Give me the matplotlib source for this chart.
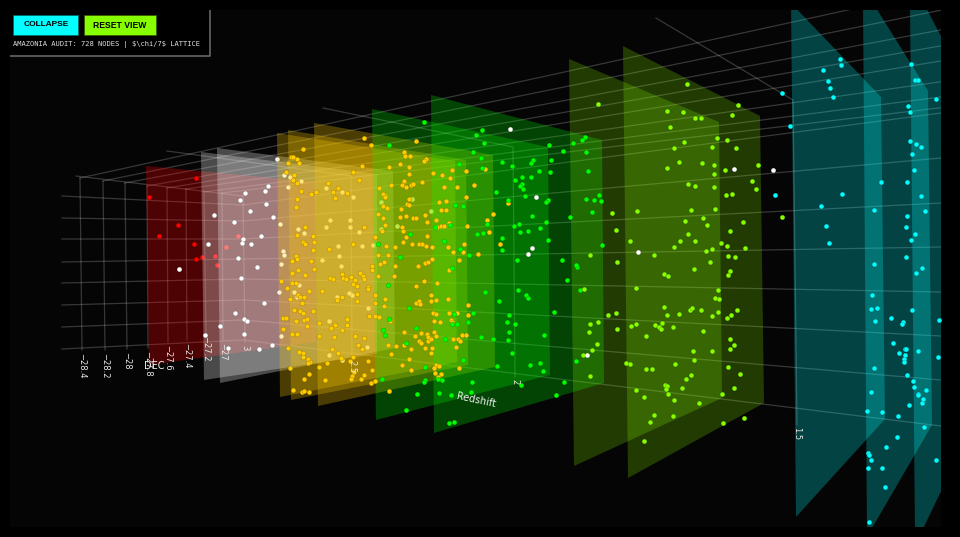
import matplotlib
matplotlib.use("Agg")
import matplotlib.pyplot as plt
from matplotlib.patches import Rectangle

red_x = [196, 149, 178, 159, 194, 196, 202, 215, 217, 226, 238]
red_y = [178, 197, 225, 236, 244, 259, 257, 256, 265, 247, 236]

white_x = [277, 268, 265, 245, 240, 266, 250, 273, 214, 234, 280, 261, 243, 242, 251, 208, 238, 257, 241, 179,
           279, 264, 235, 244, 247, 220, 205, 244, 281, 272, 259, 228, 284, 290, 301, 288, 326, 342, 353, 330,
           350, 326, 350, 359, 298, 304, 338, 362, 283, 284, 281, 339, 322, 341, 299, 294, 297, 337, 352, 349,
           368, 329, 329, 342, 385, 381, 412, 397, 381, 431, 367, 373,
           510, 536, 532, 528, 587, 638, 734, 773]
white_y = [159, 186, 191, 193, 200, 204, 211, 217, 215, 222, 224, 236, 239, 243, 244, 244, 258, 267, 278, 269,
           292, 303, 313, 319, 321, 326, 335, 334, 336, 345, 349, 348, 175, 177, 181, 187, 188, 192, 197, 220,
           220, 227, 227, 232, 229, 233, 246, 246, 251, 255, 264, 256, 260, 266, 285, 292, 297, 297, 295, 293,
           308, 321, 355, 360, 196, 202, 199, 226, 229, 211, 347, 245,
           129, 197, 248, 254, 355, 252, 169, 170]

yellow_x = [303, 364, 371, 416, 291, 293, 297, 288, 299, 362, 389, 404, 405, 410, 426, 424, 400, 409, 353, 286,
            294, 293, 359, 328, 333, 338, 347, 335, 301, 297, 316, 311, 297, 296, 379, 391, 404, 402, 406, 411,
            413, 422, 409, 433, 442, 452, 450, 444, 457, 466, 485, 474, 466, 383, 385, 383, 387, 409, 407, 409,
            401, 439, 446, 441, 446, 378, 383, 400, 406, 413, 416, 425, 436, 427, 385, 402, 403, 364, 382, 441,
            444, 437, 449, 467, 493, 487, 489, 406, 403, 427, 375, 412, 419, 422, 426, 432, 386, 395, 353, 329,
            378, 388, 448, 453, 464, 463, 459, 478, 500, 508, 384, 380, 395, 418, 425, 428, 432, 449, 372, 372,
            378, 394, 360, 363, 364, 330, 333, 342, 343, 346, 351, 355, 353, 357, 368, 368, 416, 424, 437, 322,
            357, 342, 337, 357, 375, 385, 375, 384, 431, 431, 436, 448, 416, 419, 420, 468, 369, 375, 379, 433,
            436, 449, 457, 468, 434, 440, 451, 452, 347, 347, 319, 335, 331, 342, 390, 404, 421, 427, 434, 319,
            334, 355, 364, 415, 428, 436, 462, 466, 419, 421, 428, 431, 453, 458, 460, 358, 362, 388, 396, 404,
            411, 425, 432, 456, 332, 338, 353, 391, 431, 341, 350, 409, 368, 402, 436, 434, 439, 459, 411, 372,
            435, 441, 353, 354, 352, 364, 361, 351, 438, 325, 371, 375, 389, 288, 299, 303, 303, 308, 310, 308,
            290, 319, 327, 309, 304, 293, 302, 304, 309, 297, 305, 313, 303, 305, 314, 313, 296, 292, 297, 311,
            298, 314, 292, 305, 281, 292, 296, 309, 287, 298, 300, 304, 290, 302, 294, 300, 303, 313, 283, 286,
            296, 304, 307, 307, 283, 292, 297]
yellow_y = [149, 138, 145, 141, 157, 157, 159, 163, 163, 166, 167, 152, 156, 156, 159, 161, 164, 167, 172, 172,
            175, 180, 180, 183, 192, 188, 193, 198, 191, 183, 192, 194, 199, 207, 188, 185, 181, 185, 187, 185,
            184, 182, 174, 173, 175, 170, 178, 187, 187, 171, 169, 185, 197, 194, 197, 206, 208, 199, 204, 205,
            209, 202, 201, 210, 210, 214, 218, 217, 216, 218, 218, 215, 220, 222, 225, 227, 231, 227, 231, 226,
            226, 227, 223, 226, 214, 220, 232, 237, 242, 236, 237, 244, 244, 244, 246, 247, 246, 247, 244, 249,
            255, 255, 247, 252, 244, 252, 260, 254, 244, 203, 262, 264, 266, 266, 263, 262, 259, 270, 266, 270,
            276, 276, 273, 276, 279, 278, 279, 274, 278, 279, 277, 280, 284, 286, 287, 289, 286, 281, 283, 291,
            294, 297, 300, 301, 295, 299, 303, 306, 295, 301, 300, 299, 303, 301, 304, 305, 316, 316, 317, 313,
            314, 313, 313, 315, 321, 322, 320, 322, 319, 325, 323, 325, 328, 330, 321, 332, 333, 334, 332, 336,
            337, 336, 338, 336, 337, 336, 335, 335, 341, 343, 341, 339, 339, 339, 341, 345, 349, 345, 346, 345,
            349, 348, 348, 347, 349, 353, 357, 354, 353, 358, 361, 359, 361, 365, 365, 368, 366, 368, 370, 370,
            373, 374, 371, 372, 376, 375, 379, 379, 377, 380, 383, 381, 391, 348, 352, 353, 357, 359, 362, 363,
            368, 367, 363, 374, 379, 390, 392, 391, 392, 235, 227, 236, 242, 244, 242, 250, 256, 261, 259, 261,
            270, 269, 273, 275, 281, 283, 283, 291, 288, 295, 297, 297, 299, 303, 310, 311, 313, 311, 318, 318,
            321, 320, 319, 326, 329, 334, 334]

green_x = [424, 389, 482, 476, 484, 473, 481, 502, 512, 533, 531, 549, 563, 551, 573, 582, 585, 586, 459, 482,
           539, 550, 588, 522, 531, 515, 522, 520, 523, 496, 525, 508, 548, 546, 586, 594, 601, 599, 592, 455,
           463, 532, 570, 546, 487, 514, 519, 540, 528, 520, 477, 483, 450, 435, 410, 502, 548, 602, 460, 378,
           444, 502, 469, 517, 400, 562, 452, 567, 388, 518, 526, 528, 485, 499, 580, 409, 473, 509, 554, 454,
           389, 507, 515, 468, 457, 452, 383, 416, 509, 385, 481, 493, 508, 544, 406, 445, 512, 463, 425, 497,
           530, 540, 543, 382, 425, 424, 438, 442, 472, 564, 521, 417, 439, 451, 471, 556, 406, 449, 454, 576,
           577, 576]
green_y = [122, 145, 130, 135, 143, 152, 158, 162, 166, 160, 163, 145, 151, 160, 143, 140, 137, 152, 164, 168,
           171, 172, 171, 177, 177, 180, 184, 186, 189, 192, 196, 200, 200, 202, 199, 200, 201, 195, 212, 205,
           206, 216, 217, 222, 224, 226, 224, 228, 231, 232, 234, 233, 225, 227, 234, 238, 240, 245, 249, 244,
           241, 250, 255, 260, 257, 260, 268, 280, 285, 290, 295, 298, 292, 301, 290, 308, 313, 315, 312, 314,
           319, 322, 324, 322, 324, 324, 330, 328, 332, 335, 337, 339, 340, 335, 343, 339, 353, 360, 367, 366,
           365, 363, 371, 379, 380, 382, 379, 380, 382, 382, 385, 394, 393, 395, 392, 395, 410, 423, 422, 361,
           267, 265]

lime_x = [598, 687, 738, 732, 667, 683, 695, 701, 670, 717, 727, 684, 674, 712, 736, 679, 667, 702, 714, 725,
          758, 714, 752, 756, 688, 695, 714, 726, 732, 612, 637, 691, 715, 685, 703, 707, 743, 616, 730, 688,
          630, 680, 695, 721, 727, 745, 674, 706, 712, 590, 654, 728, 735, 617, 710, 694, 730, 728, 664, 668,
          584, 636, 718, 715, 719, 664, 667, 679, 690, 692, 701, 718, 737, 731, 712, 727, 608, 616, 598, 590,
          589, 631, 636, 655, 662, 659, 661, 673, 617, 703, 646, 730, 734, 730, 597, 592, 583, 693, 712, 694,
          626, 630, 675, 646, 652, 728, 740, 691, 686, 590, 665, 667, 666, 682, 734, 636, 668, 644, 722, 674,
          699, 654, 673, 744, 650, 723, 644, 782]
lime_y = [104, 84, 105, 115, 111, 112, 118, 118, 127, 138, 140, 142, 148, 147, 148, 162, 168, 163, 165, 170,
          165, 174, 181, 189, 184, 186, 187, 195, 194, 213, 211, 210, 209, 221, 218, 225, 222, 230, 231, 234,
          241, 241, 241, 243, 246, 248, 247, 251, 249, 255, 255, 256, 257, 262, 262, 269, 271, 275, 274, 276,
          289, 288, 290, 298, 299, 307, 315, 314, 310, 308, 310, 312, 310, 315, 316, 318, 315, 313, 322, 324,
          332, 326, 324, 325, 323, 327, 329, 327, 329, 331, 336, 339, 345, 349, 344, 350, 355, 351, 351, 360,
          363, 364, 364, 369, 369, 367, 374, 375, 379, 376, 385, 386, 389, 388, 388, 390, 394, 397, 394, 400,
          403, 415, 416, 418, 422, 423, 441, 217]

cyan_x = [782, 790, 775, 840, 841, 823, 828, 830, 833, 842, 821, 826, 829, 911, 915, 918, 936, 908, 910, 910,
          916, 921, 912, 914, 881, 907, 921, 874, 907, 925, 906, 915, 911, 906, 874, 922, 916, 872, 871, 877,
          912, 875, 891, 939, 903, 902, 893, 905, 906, 899, 918, 905, 938, 904, 904, 874, 907, 913, 914, 926,
          871, 918, 918, 923, 922, 909, 867, 882, 898, 924, 897, 886, 868, 869, 871, 936, 868, 882, 885, 869]
cyan_y = [93, 126, 195, 59, 65, 70, 81, 88, 97, 194, 206, 226, 243, 64, 80, 80, 99, 106, 112, 141,
          144, 147, 154, 170, 182, 182, 196, 210, 216, 211, 227, 234, 240, 257, 264, 268, 273, 295, 309, 308,
          310, 321, 318, 320, 322, 324, 343, 349, 349, 353, 351, 355, 357, 359, 362, 368, 375, 381, 387, 390,
          392, 394, 395, 399, 403, 405, 411, 412, 416, 427, 437, 447, 453, 455, 460, 460, 468, 468, 487, 522]

# slices, corners in picture pixels
red_planes = [[(146, 166), (316, 182), (316, 342), (149, 365)]]
white_planes = [[(201, 152), (377, 174), (377, 354), (204, 380)],
                [(217, 148), (393, 171), (395, 348), (220, 383)]]
yellow_planes = [[(277, 133), (455, 161), (457, 362), (280, 397)],
                 [(288, 130), (466, 160), (468, 365), (291, 400)],
                 [(314, 123), (493, 155), (495, 367), (318, 406)]]
green_planes = [[(372, 109), (548, 147), (550, 375), (376, 420)],
                [(431, 95), (602, 140), (604, 383), (434, 433)]]
lime_planes = [[(569, 59), (719, 122), (722, 398), (574, 466)],
               [(623, 46), (760, 116), (764, 403), (628, 478)]]
cyan_planes = [[(791, 0), (788, 0), (881, 97), (885, 419), (796, 517)],
               [(863, 0), (871, 0), (928, 91), (932, 425), (868, 535), (867, 535)],
               [(910, 0), (922, 0), (945, 44), (945, 483), (920, 535), (915, 535)]]

# grid lines
wall_left_y = [349, 327, 305, 283, 262, 239, 218, 196]
wall_mid_y = [340, 320, 300, 279, 259, 239, 221, 205]
wall_right_y = [426, 380, 336, 292, 247, 203, 158, 113]
dec_top_x = [80, 103, 125, 147, 167, 186, 204, 222, 243]
dec_top_y = [178, 181, 183, 186, 188, 189, 192, 193, 196]
dec_bot_x = [82, 105, 127, 148, 168, 187, 206, 223, 245]
dec_bot_y = [350, 350, 349, 348, 342, 340, 333, 340, 342]
dec_labels = ["\u221228.4", "\u221228.2", "\u221228", "\u221227.8", "\u221227.6", "\u221227.4", "\u221227.2", "\u221227", "3"]
ceil_end_y = [27, 45, 62, 76, 89, 106, 119, 128]
z_labels = ["2.5", "2", "1.5"]
z_top_x = [351, 513, 793]
z_top_y = [176, 147, 100]
z_bot_x = [352, 515, 797]
z_bot_y = [358, 377, 425]
z_start_x = [167, 323, 656]
z_start_y = [151, 108, 18]

layers = [
    ("#ff0000", 0.29, red_planes, red_x, red_y),
    ("#ffffff", 0.28, white_planes, white_x[:-8], white_y[:-8]),
    ("#ffcc00", 0.28, yellow_planes, yellow_x, yellow_y),
    ("#00ff00", 0.25, green_planes, green_x, green_y),
    ("#88ff00", 0.22, lime_planes, lime_x, lime_y),
    ("#00ffff", 0.25, cyan_planes, cyan_x, cyan_y),
]

fig = plt.figure(figsize=(9.6, 5.37), dpi=100, facecolor="#000000")
ax = fig.add_axes([10 / 960, 10 / 537, 931 / 960, 517 / 537])
ax.set_xlim(10, 941)
ax.set_ylim(527, 10)
ax.axis("off")
fig.patches.append(Rectangle((10 / 960, 10 / 537), 931 / 960, 517 / 537, transform=fig.transFigure,
                             facecolor="#050505", zorder=-1))

grid = dict(color="#ffffff", alpha=0.2, lw=0.9, zorder=1)
for a, b, c in zip(wall_left_y, wall_mid_y, wall_right_y):
    ax.plot([62, 243, 941], [a, b, c], **grid)
for i in range(len(dec_top_x)):
    ax.plot([dec_top_x[i], dec_bot_x[i]], [dec_top_y[i], dec_bot_y[i]], **grid)
    ax.text(dec_bot_x[i], dec_bot_y[i] + 3, dec_labels[i], color="#e8e8e8", fontsize=6, rotation=-90,
            ha="center", va="top", zorder=19)
for i in range(len(ceil_end_y)):
    ax.plot([dec_top_x[i], 770, 941], [dec_top_y[i], ceil_end_y[i],
            ceil_end_y[i] - (dec_top_y[i] - ceil_end_y[i]) / (770 - dec_top_x[i]) * 171], **grid)
ax.plot([76, 243], [176, 196], **grid)
for i in range(len(z_top_x)):
    ax.plot([z_start_x[i], z_top_x[i], z_bot_x[i]], [z_start_y[i], z_top_y[i], z_bot_y[i]], **grid)
    ax.text(z_bot_x[i], z_bot_y[i] + 2, z_labels[i], color="#e8e8e8", fontsize=6, rotation=-90,
            ha="center", va="top", zorder=19)

z = 2
for n, (color, alpha, planes, xs, ys) in enumerate(layers):
    for p in planes:
        ax.fill([c[0] for c in p], [c[1] for c in p], color=color, alpha=alpha, lw=0, zorder=z)
    # red and white points sit behind the next slices, the others read clean on top
    dot_z = z + 1 if n < 2 else 15
    ax.scatter(xs, ys, s=12, c=color, edgecolors="#00000055", linewidths=0.3, zorder=dot_z)
    z += 2
# the few stray white points that sit out on the far slices
ax.scatter(white_x[-8:], white_y[-8:], s=12, c="#ffffff", edgecolors="#00000055", linewidths=0.3, zorder=15)

ax.text(154, 366, "DEC", color="#f0f0f0", fontsize=7, ha="center", va="center", zorder=19)
ax.text(476, 400, "Redshift", color="#f0f0f0", fontsize=7, rotation=-12, ha="center", va="center", zorder=19)

# control panel
ax.add_patch(Rectangle((10, 10), 200, 46, facecolor="#000000", edgecolor="none", alpha=0.85, zorder=20))
ax.plot([210, 210, 10], [10, 56, 56], color="#666666", lw=1.2, zorder=21)
ax.add_patch(Rectangle((13, 15), 65, 20, facecolor="#00ffff", edgecolor="#006666", lw=0.5, zorder=21))
ax.add_patch(Rectangle((84, 15), 72, 20, facecolor="#88ff00", edgecolor="#335500", lw=0.5, zorder=21))
ax.text(46, 25, "COLLAPSE", fontsize=6, fontweight="bold", family="Liberation Sans",
        color="#000000", ha="center", va="center", zorder=22)
ax.text(120, 25, "RESET VIEW", fontsize=6.2, fontweight="bold", family="Liberation Sans",
        color="#000000", ha="center", va="center", zorder=22)
ax.text(13, 45, "AMAZONIA AUDIT: 728 NODES | $\\chi/7$ LATTICE", fontsize=5.1, family="DejaVu Sans Mono",
        color="#dddddd", ha="left", va="center", parse_math=False, zorder=22)

fig.savefig("out.png", dpi=100, facecolor=fig.get_facecolor())
